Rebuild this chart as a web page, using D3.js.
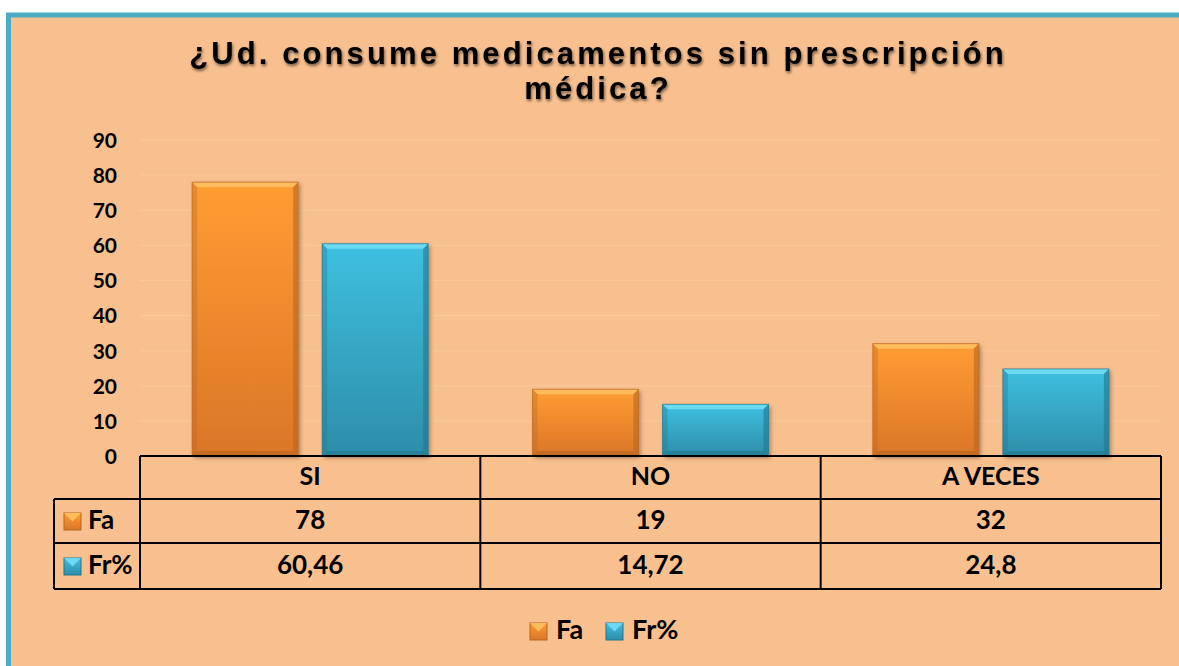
<!DOCTYPE html>
<html><head><meta charset="utf-8">
<script src="https://cdn.jsdelivr.net/npm/d3@7"></script>
<style>
html,body{margin:0;padding:0;background:#fff;}
svg{display:block;}
</style></head>
<body>
<script>
const categories = ["SI", "NO", "A VECES"];
const seriesNames = ["Fa", "Fr%"];
const faValues = [78, 19, 32];
const frValues = [60.46, 14.72, 24.8];
const frLabels = ["60,46", "14,72", "24,8"];
const yTicks = [0, 10, 20, 30, 40, 50, 60, 70, 80, 90];
const titleLines = ["¿Ud. consume medicamentos sin prescripción", "médica?"];

const W = 1179, H = 666;
const svg = d3.select("body").append("svg").attr("width", W).attr("height", H);
const defs = svg.append("defs");

function grad(id, top, bot) {
  const g = defs.append("linearGradient").attr("id", id).attr("x1", 0).attr("y1", 0).attr("x2", 0).attr("y2", 1);
  g.append("stop").attr("offset", "0%").attr("stop-color", top);
  g.append("stop").attr("offset", "100%").attr("stop-color", bot);
}
grad("gFa", "#FF9D33", "#DA7628");
grad("gFr", "#3FC0E0", "#2D8DA9");
const sh = defs.append("filter").attr("id", "shadow").attr("x", "-20%").attr("y", "-20%").attr("width", "140%").attr("height", "140%");
sh.append("feDropShadow").attr("dx", 2).attr("dy", 2).attr("stdDeviation", 2).attr("flood-color", "#000").attr("flood-opacity", 0.35);
const tsh = defs.append("filter").attr("id", "tshadow").attr("x", "-5%").attr("y", "-30%").attr("width", "110%").attr("height", "160%");
tsh.append("feDropShadow").attr("dx", 1).attr("dy", 2).attr("stdDeviation", 1.5).attr("flood-color", "#000").attr("flood-opacity", 0.55);

// background & frame
svg.append("rect").attr("x", 8.5).attr("y", 15).attr("width", W).attr("height", H).attr("fill", "#F9C08F")
  .attr("stroke", "#4BACC6").attr("stroke-width", 5);

// title
const title = svg.append("g").attr("filter", "url(#tshadow)");
title.selectAll("text").data(titleLines).join("text")
  .attr("x", 598).attr("y", (d, i) => 64 + i * 35)
  .attr("text-anchor", "middle")
  .attr("font-family", "Liberation Sans, Arial, sans-serif")
  .attr("font-weight", "bold").attr("font-size", 31).attr("letter-spacing", 3.1)
  .attr("fill", "#000").text(d => d);

// scales
const plotL = 140, plotR = 1161, y0 = 456, yTop = 140;
const x = d3.scaleBand().domain(categories).range([plotL, plotR]).paddingInner(0).paddingOuter(0);
const y = d3.scaleLinear().domain([0, 90]).range([y0, yTop]);
const xs = d3.scaleBand().domain(seriesNames).range([0, 236]).paddingInner(0.185);

// grid
svg.append("g").selectAll("line").data(yTicks.filter(d => d > 0)).join("line")
  .attr("x1", plotL).attr("x2", plotR).attr("y1", d => y(d)).attr("y2", d => y(d))
  .attr("stroke", "#FBC89C").attr("stroke-width", 1);

const tf = "Lato, 'Open Sans', sans-serif";
// y axis labels
const yAxis = d3.axisLeft(y).tickValues(yTicks).tickSize(0).tickPadding(0);
const ya = svg.append("g").attr("transform", `translate(117,0)`).call(yAxis);
ya.select(".domain").remove();
ya.selectAll("text").attr("font-family", tf).attr("font-weight", "bold")
  .attr("font-size", 21).attr("fill", "#000").attr("dy", "0.35em");

// bars
const data = categories.map((c, i) => ({ c, vals: [{ s: "Fa", v: faValues[i] }, { s: "Fr%", v: frValues[i] }] }));
const fills = { "Fa": "url(#gFa)", "Fr%": "url(#gFr)" };
const topCol = { "Fa": "#FFC060", "Fr%": "#72DDF5" };
const sideCol = { "Fa": "#B9661F", "Fr%": "#23768E" };
const groups = svg.append("g").selectAll("g").data(data).join("g")
  .attr("transform", d => `translate(${x(d.c) + (x.bandwidth() - 236) / 2},0)`);
groups.each(function (d) {
  const g = d3.select(this);
  d.vals.forEach(b => {
    const bx = xs(b.s), bw = xs.bandwidth(), by = y(b.v), bh = y0 - y(b.v);
    const bg = g.append("g");
    bg.append("rect").attr("x", bx).attr("y", by).attr("width", bw).attr("height", bh)
      .attr("fill", fills[b.s]).attr("filter", "url(#shadow)");
    const bev = 5;
    bg.append("polygon").attr("points", [[bx, by], [bx + bw, by], [bx + bw - bev, by + bev], [bx + bev, by + bev]].join(" "))
      .attr("fill", topCol[b.s]).attr("opacity", 0.9);
    bg.append("polygon").attr("points", [[bx, by], [bx + bev, by + bev], [bx + bev, by + bh - bev], [bx, by + bh]].join(" "))
      .attr("fill", sideCol[b.s]).attr("opacity", 0.35);
    bg.append("polygon").attr("points", [[bx + bw, by], [bx + bw - bev, by + bev], [bx + bw - bev, by + bh - bev], [bx + bw, by + bh]].join(" "))
      .attr("fill", sideCol[b.s]).attr("opacity", 0.6);
    bg.append("polygon").attr("points", [[bx, by + bh], [bx + bev, by + bh - bev], [bx + bw - bev, by + bh - bev], [bx + bw, by + bh]].join(" "))
      .attr("fill", sideCol[b.s]).attr("opacity", 0.6);
    bg.append("rect").attr("x", bx).attr("y", by).attr("width", bw).attr("height", bh)
      .attr("fill", "none").attr("stroke", sideCol[b.s]).attr("stroke-width", 1).attr("opacity", 0.7);
  });
});

// data table
const rowY = [456, 499, 543, 589];
const tbl = svg.append("g").attr("stroke", "#000").attr("stroke-width", 2);
tbl.append("line").attr("x1", plotL).attr("x2", plotR).attr("y1", rowY[0]).attr("y2", rowY[0]);
[1, 2, 3].forEach(i => tbl.append("line").attr("x1", 54).attr("x2", plotR).attr("y1", rowY[i]).attr("y2", rowY[i]));
const vx = categories.map(c => x(c)).concat([plotR]);
vx.forEach(v => tbl.append("line").attr("x1", v).attr("x2", v).attr("y1", rowY[0]).attr("y2", rowY[3]));
tbl.append("line").attr("x1", 54).attr("x2", 54).attr("y1", rowY[1]).attr("y2", rowY[3]);

svg.append("g").selectAll("text").data(categories).join("text")
  .attr("x", d => x(d) + x.bandwidth() / 2).attr("y", (rowY[0] + rowY[1]) / 2 + 1)
  .attr("text-anchor", "middle").attr("dominant-baseline", "middle")
  .attr("font-family", tf).attr("font-weight", "bold").attr("font-size", 25).text(d => d);
const rows = [faValues.map(String), frLabels];
rows.forEach((r, ri) => {
  svg.append("g").selectAll("text").data(r).join("text")
    .attr("x", (d, i) => x(categories[i]) + x.bandwidth() / 2).attr("y", (rowY[ri + 1] + rowY[ri + 2]) / 2 + 1)
    .attr("text-anchor", "middle").attr("dominant-baseline", "middle")
    .attr("font-family", tf).attr("font-weight", "bold").attr("font-size", 26).text(d => d);
});

function legendIcon(g, s, lx, ly) {
  const sz = 17;
  g.append("rect").attr("x", lx).attr("y", ly).attr("width", sz).attr("height", sz).attr("fill", fills[s]).attr("stroke", sideCol[s]).attr("stroke-width", 1);
  g.append("polygon").attr("points", [[lx, ly], [lx + sz, ly], [lx + sz / 2, ly + sz / 2]].join(" ")).attr("fill", topCol[s]).attr("opacity", 0.9);
}
seriesNames.forEach((s, i) => {
  const cy = (rowY[i + 1] + rowY[i + 2]) / 2;
  const g = svg.append("g");
  legendIcon(g, s, 64, cy - 8);
  g.append("text").attr("x", 88).attr("y", cy + 1).attr("dominant-baseline", "middle")
    .attr("font-family", tf).attr("font-weight", "bold").attr("font-size", 26).text(s);
});

// bottom legend
const legX = [530, 606];
seriesNames.forEach((s, i) => {
  const g = svg.append("g");
  legendIcon(g, s, legX[i], 623);
  g.append("text").attr("x", legX[i] + 26).attr("y", 632).attr("dominant-baseline", "middle")
    .attr("font-family", tf).attr("font-weight", "bold").attr("font-size", 27).text(s);
});
</script>
</body></html>
